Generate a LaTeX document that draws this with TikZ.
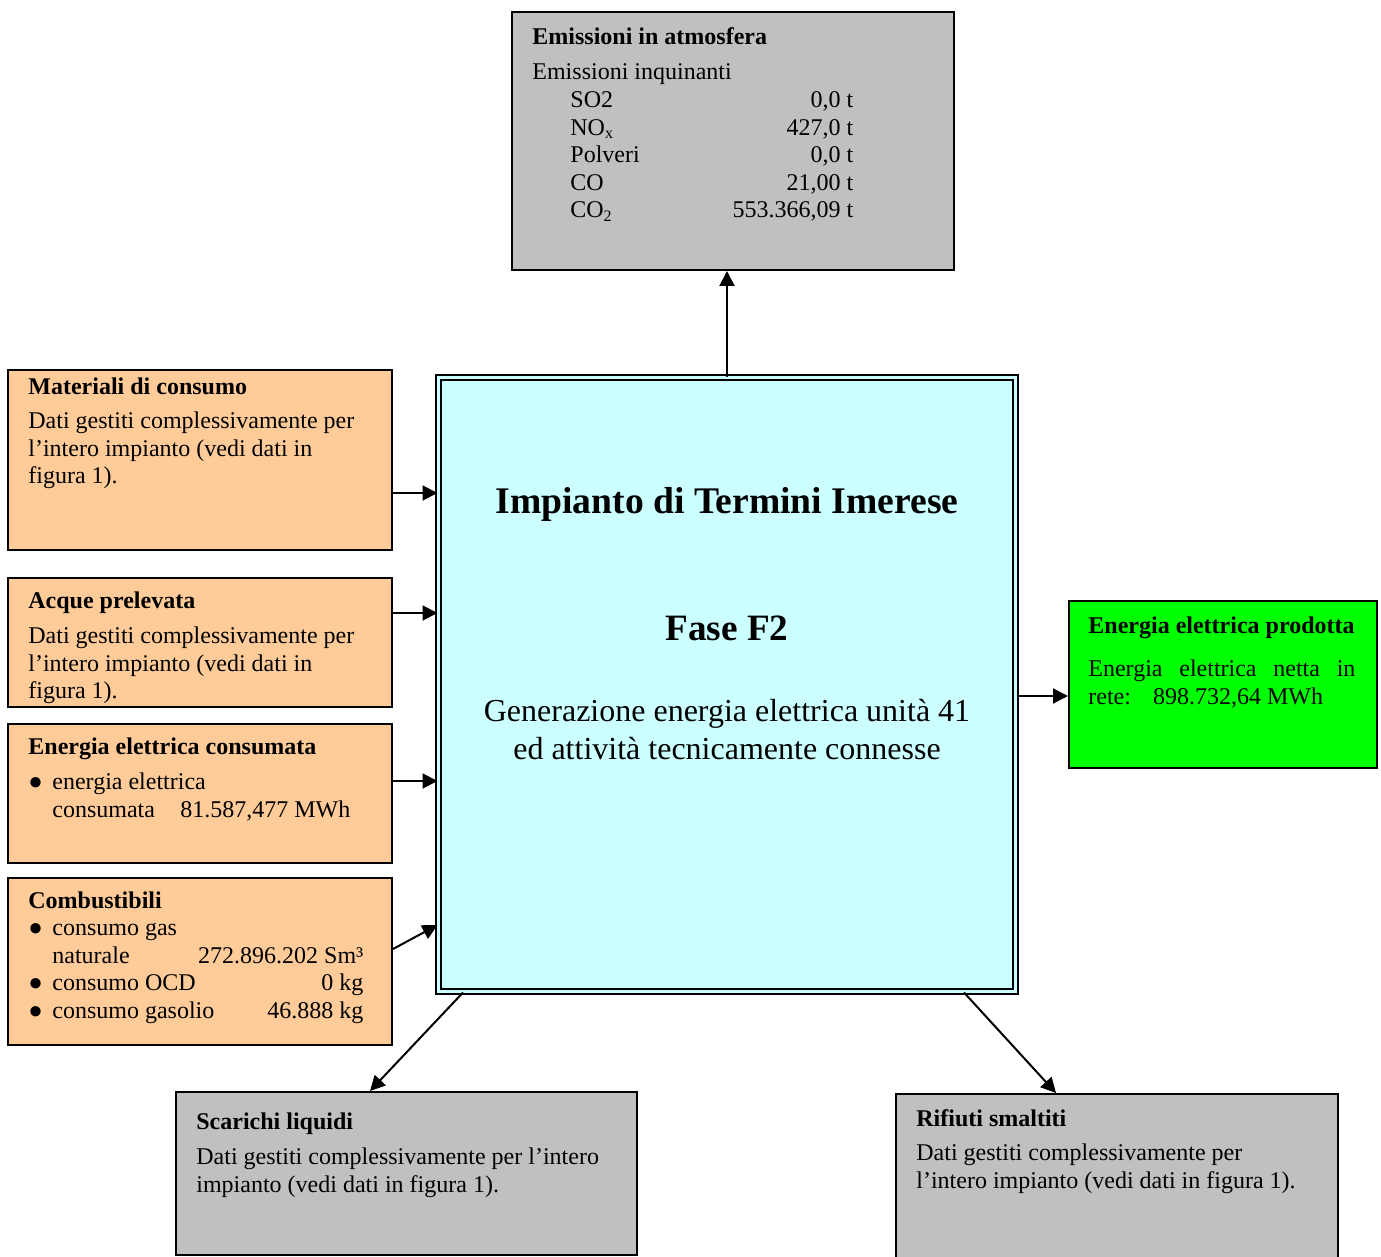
\documentclass[tikz,border=0pt]{standalone}
\usepackage{fontspec}
\setmainfont{Liberation Serif}
\usepackage{tikz}
\usetikzlibrary{arrows.meta, positioning, calc}

\definecolor{peach}{HTML}{FFCC99}
\definecolor{boxgrey}{HTML}{C0C0C0}
\definecolor{plantcyan}{HTML}{CCFFFF}
\definecolor{gridgreen}{HTML}{00FF00}

\newcommand{\dotitem}{\makebox[12pt][l]{\fontsize{12}{12}\selectfont ●}}

\begin{document}
\begin{tikzpicture}[
  x=0.5pt, y=-0.5pt,
  box/.style = {draw=black, line width=1pt, anchor=north west, inner sep=0pt},
  inbox/.style  = {box, fill=peach},
  outbox/.style = {box, fill=boxgrey},
  txt/.style = {anchor=north west, inner sep=0pt, align=left,
    font=\fontsize{12}{13.8}\selectfont},
  txtw/.style = {txt, align=justify},
  arr/.style = {-{Triangle[length=7.5pt, width=7.5pt]}, line width=1pt}
]
\useasboundingbox (0,0) rectangle (1381,1257);

%% ---- central plant ----
\node[draw, line width=1pt, double=plantcyan, double distance=1.5pt,
  fill=plantcyan, inner sep=0pt,
  minimum width=288.5pt, minimum height=307pt] (plant) at (727,684.5) {};
\node[font=\fontsize{18.8}{22}\selectfont\bfseries] (plantT)
  at ([shift={(0,127.5)}]plant.north) {Impianto di Termini Imerese};
\node[font=\fontsize{18.6}{22}\selectfont\bfseries] (plantF)
  at ([shift={(0,251.5)}]plant.north) {Fase F2};
\node[font=\fontsize{16}{19}\selectfont, align=center] (plantD)
  at ([shift={(0,353.5)}]plant.north)
  {Generazione energia elettrica unità 41\\ed attività tecnicamente connesse};

%% ---- emissions (top) ----
\node[outbox, minimum width=221pt, minimum height=129pt] (emis) at (511,11) {};
\node[txtw, text width=160.5pt] (emisT) at ([shift={(21,16)}]emis.north west)
  {\textbf{Emissioni in atmosfera}\\[4pt]
   Emissioni inquinanti\\
   \hspace*{19pt}SO2\hfill 0,0 t\\
   \hspace*{19pt}NO\textsubscript{x}\hfill 427,0 t\\
   \hspace*{19pt}Polveri\hfill 0,0 t\\
   \hspace*{19pt}CO\hfill 21,00 t\\
   \hspace*{19pt}CO\textsubscript{2}\hfill 553.366,09 t};

%% ---- inputs (left column) ----
\node[inbox, minimum width=192pt, minimum height=90pt] (mat) at (7,369) {};
\node[txt] (matT) at ([shift={(21,8)}]mat.north west)
  {\textbf{Materiali di consumo}\\[3.5pt]
   Dati gestiti complessivamente per\\
   l’intero impianto (vedi dati in\\
   figura 1).};

\node[inbox, minimum width=192pt, minimum height=64.5pt] (acq) at (7,577) {};
\node[txt] (acqT) at ([shift={(21,14)}]acq.north west)
  {\textbf{Acque prelevata}\\[4pt]
   Dati gestiti complessivamente per\\
   l’intero impianto (vedi dati in\\
   figura 1).};

\node[inbox, minimum width=192pt, minimum height=69.5pt] (ene) at (7,723) {};
\node[txt] (eneT) at ([shift={(21,14)}]ene.north west)
  {\textbf{Energia elettrica consumata}\\[4pt]
   \dotitem energia elettrica\\
   \hspace*{12pt}\makebox[64pt][l]{consumata}81.587,477 MWh};

\node[inbox, minimum width=192pt, minimum height=83.5pt] (comb) at (7,877) {};
\node[txtw, text width=167.5pt] (combT) at ([shift={(21,14)}]comb.north west)
  {\textbf{Combustibili}\\
   \dotitem consumo gas\\
   \hspace*{12pt}naturale\hfill 272.896.202 Sm³\\
   \dotitem consumo OCD\hfill 0 kg\\
   \dotitem consumo gasolio\hfill 46.888 kg};

%% ---- output energy (right) ----
\node[box, fill=gridgreen, minimum width=154pt, minimum height=83.5pt] (prod) at (1068,600) {};
\node[txt] (prodT) at ([shift={(20,16)}]prod.north west)
  {\textbf{Energia elettrica prodotta}\\[8pt]
   \makebox[133.5pt][s]{Energia elettrica netta in}\\
   rete:\hspace{11pt}898.732,64 MWh};

%% ---- outputs (bottom) ----
\node[outbox, minimum width=230.5pt, minimum height=81.5pt] (scar) at (175,1091) {};
\node[txt] (scarT) at ([shift={(21,21)}]scar.north west)
  {\textbf{Scarichi liquidi}\\[4pt]
   Dati gestiti complessivamente per l’intero\\
   impianto (vedi dati in figura 1).};

\node[outbox, minimum width=221pt, minimum height=86pt] (rif) at (895,1093) {};
\node[txt] (rifT) at ([shift={(21,16)}]rif.north west)
  {\textbf{Rifiuti smaltiti}\\[3.5pt]
   Dati gestiti complessivamente per\\
   l’intero impianto (vedi dati in figura 1).};

%% ---- flows ----
\draw[arr] (plant.north) -- (plant.north |- emis.south);
\draw[arr] ([yshift=-16.5pt]mat.east) -- ([yshift=-16.5pt]mat.east -| plant.west);
\draw[arr] ([yshift=14.75pt]acq.east) -- ([yshift=14.75pt]acq.east -| plant.west);
\draw[arr] ([yshift=6.25pt]ene.east) -- ([yshift=6.25pt]ene.east -| plant.west);
\draw[arr] ([yshift=6.25pt]comb.east) -- ([yshift=-120.25pt]plant.west);
\draw[arr] ([yshift=-5.75pt]plant.east) -- ([yshift=-5.75pt]plant.east -| prod.west);
\draw[arr] ([xshift=12.75pt]plant.south west) -- ([xshift=-18.25pt]scar.north);
\draw[arr] ([xshift=-26.25pt]plant.south east) -- ([xshift=-30.5pt]rif.north);

\end{tikzpicture}
\end{document}
